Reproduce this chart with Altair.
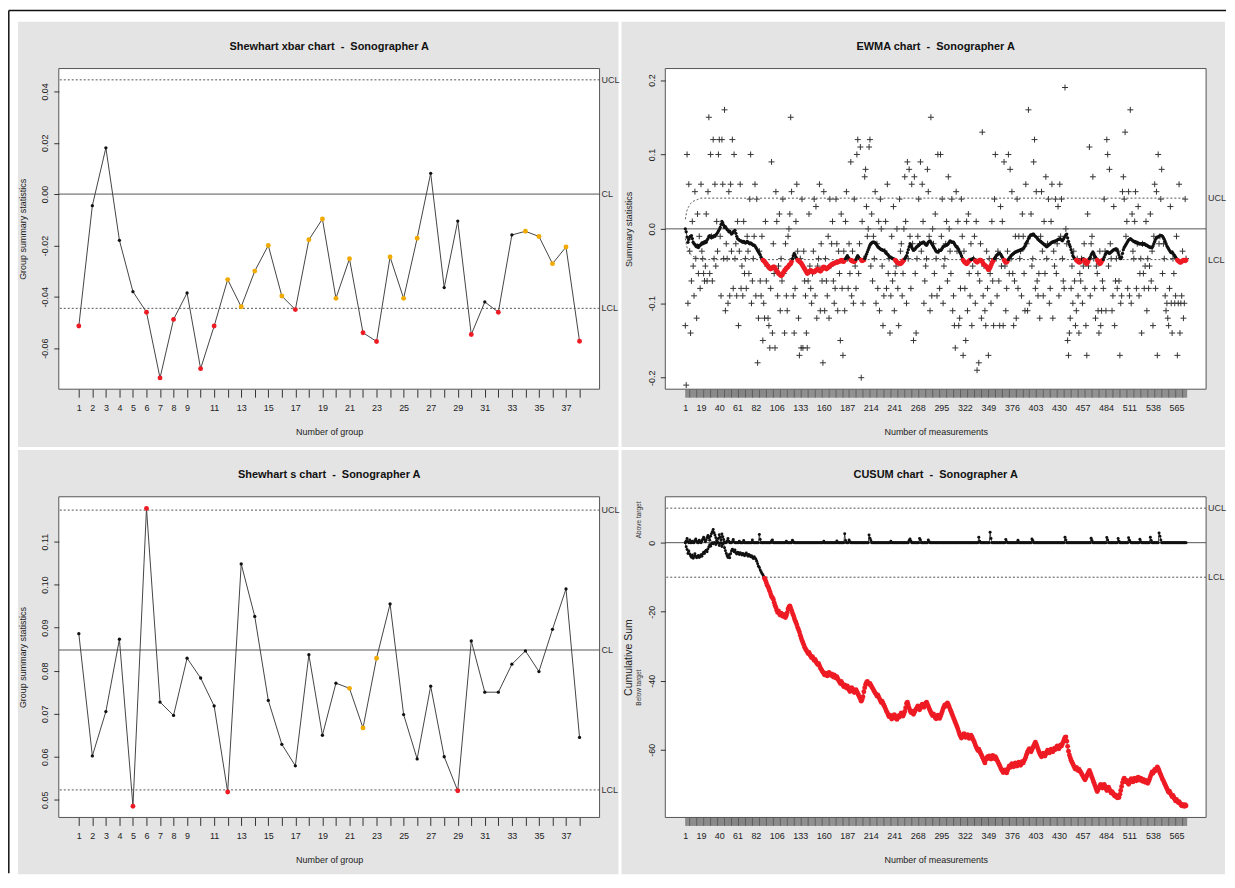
import altair as alt
import pandas as pd

# ------------------------------------------------------------------ data
N_GROUPS = 38
N_MEAS = 576
GROUP_TICK_LABELS = [1, 2, 3, 4, 5, 6, 7, 8, 9, 11, 13, 15, 17, 19, 21, 23, 25, 27, 29, 31, 33, 35, 37]
MEAS_TICK_LABELS = [1, 19, 40, 61, 82, 106, 133, 160, 187, 214, 241, 268, 295, 322, 349,
                    376, 403, 430, 457, 484, 511, 538, 565]

XBAR = [-0.0514, -0.0045, 0.0180, -0.0180, -0.0380, -0.0460, -0.0716, -0.0488, -0.0385, -0.0680,
        -0.0514, -0.0333, -0.0439, -0.0300, -0.0200, -0.0397, -0.0450, -0.0178, -0.0097, -0.0406,
        -0.0252, -0.0540, -0.0574, -0.0245, -0.0406, -0.0172, 0.0081, -0.0364, -0.0105, -0.0547,
        -0.0420, -0.0460, -0.0159, -0.0145, -0.0165, -0.0271, -0.0206, -0.0573]
XBAR_OUT = [1, 6, 7, 8, 10, 11, 17, 22, 23, 30, 32, 38]
XBAR_RUN = [12, 13, 14, 15, 16, 18, 19, 20, 21, 24, 25, 26, 34, 35, 36, 37]
XBAR_UCL, XBAR_CL, XBAR_LCL = 0.0445, 0.0, -0.0445

S_VALUES = [0.0886, 0.0602, 0.0705, 0.0873, 0.0485, 0.1177, 0.0727, 0.0696, 0.0829, 0.0783,
            0.0718, 0.0518, 0.1048, 0.0926, 0.0731, 0.0629, 0.0579, 0.0837, 0.0650, 0.0771,
            0.0759, 0.0667, 0.0829, 0.0955, 0.0698, 0.0595, 0.0764, 0.0600, 0.0521, 0.0869,
            0.0750, 0.0750, 0.0815, 0.0846, 0.0798, 0.0896, 0.0990, 0.0645]
S_OUT = [5, 6, 12, 29]
S_RUN = [21, 22, 23]
S_UCL, S_CL, S_LCL = 0.1173, 0.0848, 0.0523

EWMA_RAW_HUNDREDTHS = [
    -13, -21, 10, -10, 6, -3, -14, -7, 1, -5, -9, 5, -4, -12, 2, -6, -1, -8, 6, -3, -4, -6, -7, -5,
    2, -7, 5, 15, -6, 10, -1, -7, 12, -4, 6, -5, 1, -3, 10, 12, -1, -9, 12, 6, -4, 16, -11, -2,
    -4, -10, 5, -9, 6, -3, 12, -8, 10, -4, -2, -9, 1, -13, -3, 6, -8, -5, -9, 1, -6, -4, -8, -1,
    -3, -6, 4, 10, -10, -7, -4, -1, 6, -9, 4, -18, -12, -3, -7, -9, -1, -15, -10, -12, 1, -7, -5, -12,
    -13, -16, -8, 9, -14, -2, -6, -16, 5, 1, -9, -5, 2, -11, -4, -7, 4, -6, -14, -2, -9, -11, -1, 0,
    2, 15, 5, -4, -9, -14, -8, 1, 6, -3, -12, -17, -4, -16, 4, -16, -3, -7, -9, -14, -16, -7, 2, -5,
    -8, -10, -6, -3, 4, -9, 3, -12, -5, -4, 6, -11, -2, -7, -18, 5, -11, -4, -7, -9, -1, -12, 4, -5,
    -2, 1, -7, -10, -8, 4, -2, -11, -3, -6, -15, 2, -8, -17, -3, -11, 1, 5, -4, -8, -2, -6, 9, -9,
    -3, -10, 4, -5, -8, 10, 12, -6, -2, 11, -20, 1, -10, -4, 7, 8, 3, -1, 0, 11, 12, -5, 2, -7,
    -1, -4, 5, -10, -2, -8, 1, -11, 4, 0, -5, -13, -9, -3, 1, -8, 6, -6, -4, -14, -9, -1, -7, 3,
    -11, -6, -5, 0, -8, -13, 4, -3, -2, -9, -6, 0, 7, 1, -10, 9, -4, 8, -1, -8, 6, -2, -15, 7,
    -6, -14, -4, -1, 4, -2, 9, -3, 6, 1, -10, -7, -5, -4, 8, 5, -1, -11, 15, -9, 0, -2, -6, 2,
    -4, -9, 10, -3, -8, 10, -1, 4, -10, -5, -4, -2, 1, -7, 7, 0, -3, -6, 4, -11, -9, -13, -16, 5,
    -3, 1, -13, -12, -8, 4, -1, -17, -3, -8, -15, 1, -11, 2, -6, -9, -2, -13, -5, -4, -1, -10, 1, -19,
    -6, -18, -7, -2, -12, 13, -9, -5, -11, -13, -3, -8, -17, -4, -6, -10, 1, -7, -13, 4, 10, -4, -9, -3,
    -7, -13, 3, -5, 1, -13, 9, -5, -11, -8, -3, 10, -6, 8, -4, 5, -6, -13, -7, -1, -12, 4, -8, -1,
    -4, -3, -9, 2, -1, -6, -11, 6, -2, -11, 16, -10, -1, 2, -5, -4, 9, 12, -8, 5, -7, -9, -6, -12,
    -1, 5, -3, -9, 1, -6, 7, -4, -2, 4, -10, -8, 1, 6, -12, -3, -5, 4, -6, -2, 3, -9, 6, -1,
    4, -4, -7, -8, 19, 0, -2, -15, -17, -14, -12, -8, -5, -10, -3, -7, -13, -11, -4, -9, -14, -6, -7, -4,
    -10, -5, -2, -8, -13, -17, 2, -5, 11, -9, -2, -1, 7, -4, -8, -12, -5, -6, -11, -14, -3, -13, -11, -7,
    -8, 4, -3, -11, 12, 10, -5, 8, -2, -4, -11, -9, 3, -13, -7, -4, -8, -3, -7, -17, -10, -9, 5, 7,
    4, 13, -1, 1, -8, 5, -9, 16, -10, 2, -3, -4, 1, 5, -8, -2, 3, -9, -6, -4, -14, -2, -6, -8,
    -5, 1, -11, -4, -8, -5, 2, -7, -3, -13, -1, 6, -8, 5, -17, 10, -2, -1, 4, 8, -6, -2, -4, -9,
    -11, -10, -12, -13, -8, 3, -10, -14, -4, -6, -10, -9, -1, -17, -10, 6, -14, -10, -9, -3, -12, -10, 4, -4,
]

EWMA_SMOOTH_THOUSANDTHS = [
    0, -4, -11, -18, -14, -11, -10, -9, -13, -18, -20, -21, -23, -24, -22, -25, -23, -22, -21, -19, -20, -18, -19, -17,
    -18, -15, -13, -10, -9, -11, -12, -10, -11, -9, -10, -8, -7, -5, -3, -1, 2, 6, 10, 8, 5, 2, 3, 1,
    -1, -2, -4, -3, -5, -7, -6, -4, -3, -2, -6, -10, -13, -14, -15, -16, -16, -17, -18, -17, -18, -19, -18, -17,
    -18, -19, -20, -19, -20, -21, -22, -22, -23, -25, -27, -29, -31, -33, -35, -38, -40, -42, -43, -44, -46, -47, -49, -50,
    -52, -53, -54, -53, -52, -51, -51, -53, -55, -57, -58, -60, -61, -62, -63, -62, -60, -58, -56, -55, -53, -52, -51, -49,
    -48, -47, -44, -40, -36, -33, -35, -38, -40, -42, -43, -44, -45, -46, -48, -50, -52, -54, -56, -58, -60, -59, -58, -57,
    -56, -57, -58, -58, -58, -57, -56, -55, -54, -55, -56, -57, -56, -54, -52, -51, -52, -53, -54, -53, -52, -51, -50, -49,
    -48, -47, -47, -46, -46, -45, -45, -45, -44, -44, -43, -42, -43, -44, -44, -42, -40, -38, -36, -38, -40, -41, -42, -43,
    -43, -44, -44, -43, -41, -38, -36, -38, -40, -41, -42, -43, -42, -42, -40, -37, -34, -31, -28, -25, -22, -20, -19, -18,
    -18, -18, -19, -20, -22, -24, -25, -26, -27, -28, -28, -29, -29, -30, -31, -33, -34, -35, -37, -38, -38, -39, -40, -40,
    -41, -42, -43, -45, -46, -46, -47, -47, -46, -45, -43, -42, -40, -38, -36, -32, -28, -24, -20, -22, -25, -27, -29, -28,
    -27, -25, -24, -23, -22, -21, -20, -19, -19, -18, -18, -20, -21, -22, -20, -18, -17, -16, -18, -20, -22, -24, -26, -28,
    -30, -31, -31, -30, -29, -29, -28, -26, -24, -23, -23, -22, -22, -21, -20, -18, -16, -17, -18, -18, -18, -20, -22, -24,
    -24, -26, -28, -31, -33, -36, -39, -42, -44, -45, -46, -47, -46, -44, -43, -42, -41, -41, -40, -40, -41, -43, -44, -45,
    -44, -43, -42, -42, -43, -44, -47, -48, -49, -50, -51, -53, -55, -54, -52, -49, -46, -44, -42, -40, -38, -36, -35, -34,
    -33, -33, -34, -36, -38, -40, -42, -44, -45, -45, -43, -41, -39, -38, -36, -35, -34, -33, -32, -31, -31, -30, -30, -29,
    -29, -28, -28, -27, -27, -25, -23, -20, -18, -16, -13, -11, -9, -8, -8, -7, -7, -9, -10, -11, -12, -14, -15, -16,
    -17, -18, -19, -20, -21, -22, -23, -24, -23, -22, -21, -20, -19, -18, -18, -17, -17, -16, -16, -15, -14, -14, -13, -14,
    -15, -16, -14, -12, -10, -8, -7, -12, -17, -21, -24, -28, -32, -36, -38, -40, -41, -42, -43, -44, -45, -45, -44, -42,
    -41, -40, -42, -44, -46, -47, -45, -42, -40, -38, -35, -33, -31, -33, -36, -38, -40, -42, -44, -46, -47, -46, -44, -42,
    -41, -38, -35, -33, -31, -31, -32, -33, -32, -31, -30, -29, -28, -28, -27, -27, -29, -32, -35, -38, -40, -38, -33, -28,
    -25, -23, -21, -19, -17, -15, -14, -13, -14, -15, -16, -17, -17, -18, -18, -19, -19, -20, -20, -20, -20, -21, -20, -20,
    -21, -22, -22, -23, -24, -24, -25, -25, -25, -23, -20, -17, -14, -12, -11, -11, -10, -9, -9, -9, -10, -12, -14, -17,
    -20, -23, -25, -27, -29, -31, -32, -31, -33, -35, -36, -38, -40, -42, -43, -44, -45, -45, -44, -43, -42, -42, -43, -42,
]
EWMA_UCL_START = [0.013, 0.020, 0.025, 0.028, 0.030, 0.032, 0.034, 0.035, 0.036, 0.037,
                  0.0375, 0.038, 0.0385, 0.039, 0.0395, 0.040, 0.0405, 0.041, 0.0413]
EWMA_LIMIT = 0.0413

CUSUM_UPPER = [
    0, 0.5, 1.2, 0.3, 0, 0.8, 0, 0, 0.4, 0, 0, 0.6, 1.1, 0.4, 0, 0, 0.7, 0.2, 0, 0.5, 1.0, 1.6, 0.9, 0.3,
    0.8, 1.5, 2.1, 1.4, 0.7, 1.9, 2.6, 3.2, 3.8, 2.9, 2.2, 1.4, 0.6, 0, 1.2, 2.3, 1.6, 0.8, 2.5, 1.7, 0.9, 0.2, 0, 0,
    0.5, 1.2, 0.4, 0, 0, 0, 0.3, 0.9, 0.2, 0, 0, 0, 0, 0, 0.4, 0, 0, 0, 0, 0.6, 0, 0, 0, 0,
    0, 0, 0, 0, 0, 0.8, 0, 0, 0, 0, 0, 0, 0, 2.4, 0.9, 0, 0, 0, 0, 0, 0, 0, 0, 0,
    0, 0, 0, 0.5, 0.8, 0, 0, 0, 0, 0, 0, 0, 0, 0, 0, 0, 0, 0, 0, 0, 0.4, 0, 0, 0,
    0, 0, 0, 0.7, 0.3, 0, 0, 0, 0, 0, 0, 0, 0, 0, 0, 0, 0, 0, 0, 0, 0, 0, 0, 0,
    0, 0, 0, 0, 0, 0, 0, 0, 0, 0, 0, 0, 0, 0, 0, 0.4, 0, 0, 0, 0, 0, 0, 0, 0,
    0, 0, 0, 0, 0, 0, 0.5, 0, 0, 0, 0, 0, 0, 0, 0, 2.6, 0.6, 0, 0, 0, 0.8, 0.3, 0, 0,
    0, 0, 0, 0, 0, 0, 0, 0, 0, 0, 0, 0, 0, 0, 0, 0, 0, 0, 0, 2.2, 1.3, 0.6, 0, 0,
    0, 0, 0, 0, 0, 0, 0, 0, 0, 0, 0, 0, 0, 0, 0, 0, 0, 0, 0, 0, 0.4, 0, 0, 0,
    0, 0, 0, 0, 0, 0, 0, 0, 0, 0, 0, 0, 0, 0, 0, 0, 0, 0.6, 1.1, 0.5, 0, 0, 0, 0,
    0, 0, 0, 0, 0, 1.2, 0.8, 0, 0, 0, 0, 0, 0, 0, 0, 0.8, 0.3, 0, 0, 0, 0, 0, 0, 0,
    0, 0, 0, 0, 0, 0, 0, 0, 0, 0, 0, 0, 0, 0, 0, 0, 0, 0, 0, 0, 0, 0, 0, 0,
    0, 0, 0, 0, 0, 0, 0, 0, 0, 0, 0, 0, 0, 0, 0, 0, 0, 0, 0, 0, 0, 0, 0, 0,
    0, 1.6, 0.4, 0, 0, 0, 0, 0, 0, 0, 0, 0, 0, 0, 3.0, 1.2, 0, 0, 0, 0, 0, 0, 0, 0,
    0, 0, 0, 0, 0, 0, 0, 0, 0.9, 0.3, 0, 0, 0, 0, 0, 0, 0, 0, 0, 0, 0, 0, 0.7, 0,
    0, 0, 0, 0, 0, 0, 0, 0, 0, 0, 0, 0, 0, 0, 1.1, 0.6, 0, 0, 0, 0, 0, 0, 0, 0,
    0, 0, 0, 0, 0, 0, 0, 0, 0, 0, 0, 0, 0, 0, 0, 0, 0, 0, 0, 0, 0, 0, 0, 0,
    0, 0, 0, 0, 1.6, 0.8, 0, 0, 0, 0, 0, 0, 0, 0, 0, 0, 0, 0, 0, 0, 0, 0, 0, 0,
    0, 0, 0, 0, 0, 0, 0, 0, 0, 0, 1.3, 0.6, 0, 0, 0, 0, 0, 0, 0, 0, 0, 0, 0, 0,
    0, 0, 0, 0, 1.5, 0.8, 0, 0, 0, 0, 0, 0, 0, 0, 0, 0, 0, 1.2, 0.4, 0, 0, 0, 0, 0,
    0, 0, 0, 0, 0, 1.4, 0.7, 0.2, 0, 0, 0, 0, 0, 0, 0, 0, 0, 0, 1.0, 0.3, 0, 0, 0, 0,
    0, 0, 0, 0, 0, 0, 1.6, 0.6, 0, 0, 0, 0, 0, 0, 0, 0, 2.8, 1.9, 0.8, 0, 0, 0, 0, 0,
    0, 0, 0, 0, 0, 0, 0, 0, 0, 0, 0, 0, 0, 0, 0, 0, 0, 0, 0, 0, 0, 0, 0, 0,
]

CUSUM_LOWER = [
    0, -1.2, -2.0, -3.1, -2.4, -3.3, -3.8, -4.2, -3.6, -4.5, -4.0, -3.2, -3.9, -4.4, -4.1, -3.7, -4.3, -4.0, -3.5, -3.9, -3.3, -2.8, -3.1, -2.5,
    -2.2, -2.6, -1.8, -1.2, -0.6, -1.0, -0.4, 0, -0.3, 0, 0, -0.5, 0, 0, 0, -0.8, -0.2, 0, -1.1, -0.4, 0, -1.5, -2.3, -3.1,
    -3.8, -4.3, -3.5, -4.4, -3.2, -2.4, -1.9, -2.2, -2.6, -2.1, -2.9, -3.3, -2.8, -3.0, -3.4, -2.9, -3.2, -3.6, -3.1, -3.4, -3.8, -3.3, -3.0, -3.5,
    -3.9, -3.4, -3.7, -4.1, -3.8, -4.2, -4.6, -4.1, -4.4, -4.8, -5.4, -6.1, -6.8, -7.2, -7.9, -8.4, -8.9, -9.3, -9.8, -10.3, -10.9, -11.6, -12.3, -12.8,
    -13.4, -14.1, -14.9, -15.6, -15.9, -16.4, -17.3, -18.1, -18.8, -19.6, -20.2, -19.8, -20.5, -21.0, -20.4, -20.9, -21.3, -20.8, -21.4, -21.7, -21.1, -20.3, -19.2, -18.6,
    -18.3, -18.9, -19.6, -20.4, -21.0, -21.8, -22.5, -23.1, -23.8, -24.6, -25.2, -25.9, -26.8, -27.6, -28.3, -29.0, -29.6, -30.3, -30.8, -31.2, -31.6, -32.1, -31.8, -32.4,
    -32.9, -33.3, -33.0, -33.6, -34.1, -33.8, -34.4, -34.9, -35.3, -35.0, -35.6, -36.2, -36.7, -37.1, -37.5, -37.9, -38.3, -37.8, -38.2, -38.6, -38.0, -37.6, -38.1, -38.4,
    -38.0, -38.5, -38.9, -38.3, -38.7, -39.2, -38.8, -39.4, -39.9, -40.3, -40.8, -40.2, -40.7, -41.3, -41.7, -41.2, -41.6, -42.1, -41.5, -42.0, -42.6, -43.1, -42.5, -42.0,
    -42.4, -42.9, -43.4, -43.0, -42.6, -43.2, -43.7, -44.2, -44.8, -45.3, -45.9, -45.4, -44.6, -43.2, -42.0, -41.1, -40.5, -40.2, -40.6, -41.0, -40.8, -41.3, -41.7, -42.2,
    -42.6, -43.1, -43.5, -43.9, -44.4, -44.1, -44.7, -45.2, -45.8, -46.3, -45.9, -46.5, -47.1, -47.6, -48.2, -48.8, -49.3, -49.9, -50.4, -50.0, -50.6, -51.1, -50.7, -50.2,
    -49.8, -50.3, -50.9, -51.2, -50.6, -50.1, -50.5, -49.9, -49.3, -49.8, -50.2, -49.6, -48.9, -47.8, -46.6, -46.2, -47.0, -47.9, -48.6, -49.2, -48.8, -49.3, -49.7, -49.1,
    -48.6, -48.2, -47.8, -47.3, -47.9, -48.4, -47.9, -47.2, -46.8, -47.3, -47.7, -47.1, -46.5, -46.2, -46.8, -47.4, -48.0, -48.6, -49.2, -49.7, -50.1, -49.6, -50.2, -50.7,
    -51.0, -50.5, -50.0, -50.4, -50.9, -50.3, -49.6, -48.9, -48.1, -47.5, -47.0, -47.4, -46.8, -46.4, -46.9, -47.5, -48.2, -48.8, -49.5, -50.1, -50.8, -51.4, -52.0, -52.7,
    -53.3, -54.0, -54.8, -55.5, -56.1, -56.6, -56.2, -55.7, -55.3, -55.9, -56.4, -56.0, -55.6, -56.1, -56.7, -56.3, -55.8, -56.2, -56.8, -57.3, -57.9, -58.6, -59.2, -59.7,
    -60.2, -59.8, -60.4, -61.0, -61.5, -62.1, -62.6, -63.2, -63.8, -62.9, -62.4, -62.0, -62.5, -61.8, -62.3, -62.7, -62.1, -61.6, -62.2, -62.6, -62.0, -62.4, -63.0, -63.5,
    -64.1, -64.6, -65.2, -65.7, -66.1, -66.6, -66.2, -65.8, -66.3, -66.7, -66.0, -65.3, -64.7, -65.1, -64.5, -64.0, -64.4, -64.9, -64.3, -63.8, -64.2, -64.7, -64.1, -63.6,
    -64.0, -64.5, -63.9, -63.4, -63.8, -63.2, -62.7, -62.1, -61.3, -60.6, -60.1, -59.7, -60.2, -60.6, -60.0, -59.4, -58.9, -58.3, -57.8, -58.4, -59.1, -59.8, -60.5, -61.1,
    -61.6, -62.0, -61.5, -61.0, -61.4, -61.8, -61.2, -60.6, -60.1, -60.5, -60.9, -60.3, -59.8, -60.2, -60.6, -60.0, -59.5, -59.9, -59.4, -58.9, -59.3, -59.7, -59.1, -58.6,
    -58.9, -58.3, -57.7, -57.0, -56.4, -56.3, -57.5, -59.0, -60.4, -61.5, -62.3, -63.0, -63.6, -64.1, -64.7, -65.2, -65.6, -65.1, -65.5, -66.0, -65.6, -66.1, -66.5, -66.9,
    -67.4, -67.8, -68.3, -68.7, -68.2, -67.6, -67.0, -66.5, -66.0, -66.6, -67.3, -68.0, -68.7, -69.4, -70.1, -70.8, -71.5, -72.1, -71.6, -71.0, -70.4, -70.0, -70.6, -71.1,
    -70.5, -70.0, -70.6, -71.2, -71.8, -71.3, -70.8, -71.4, -72.0, -72.5, -72.1, -72.6, -73.0, -73.4, -73.1, -73.6, -73.9, -73.5, -73.8, -72.9, -71.8, -70.6, -69.5, -68.7,
    -68.2, -68.8, -69.3, -68.9, -69.5, -70.0, -69.4, -68.9, -68.4, -68.9, -69.3, -68.7, -68.2, -68.6, -69.0, -68.4, -67.9, -68.3, -68.8, -68.2, -68.7, -69.1, -68.6, -69.0,
    -69.4, -68.9, -69.3, -69.7, -69.1, -68.5, -67.8, -67.1, -66.4, -66.8, -66.2, -65.7, -66.1, -65.5, -65.0, -65.4, -66.0, -66.7, -67.3, -67.9, -68.5, -69.0, -69.6, -70.1,
    -70.7, -71.2, -71.8, -72.3, -72.0, -72.6, -73.1, -73.6, -73.2, -73.8, -74.3, -74.8, -74.4, -74.9, -75.3, -75.0, -75.5, -75.9, -76.2, -75.8, -76.1, -76.4, -75.9, -76.2,
]
CUSUM_UCL, CUSUM_LCL = 10.0, -10.0

# ------------------------------------------------------------------ style
FONT = "Liberation Sans"
PANEL_GRAY = "#e4e4e4"
RED = "#ee1b24"
ORANGE = "#f0aa00"
INK = "#222222"
W, H = 543, 322
SEP = "\u00a0\u00a0-\u00a0\u00a0"

one = pd.DataFrame({"k": [0]})


def decor(left, right, top, bottom, title, frame=False):
    layers = []
    layers.append(alt.Chart(one).mark_rect(color=PANEL_GRAY).encode(
        x=alt.value(left), x2=alt.value(right), y=alt.value(top), y2=alt.value(bottom)))
    layers.append(alt.Chart(one).mark_rect(fill="white", stroke="#555555", strokeWidth=1).encode(
        x=alt.value(0), x2=alt.value(W), y=alt.value(0), y2=alt.value(H)))
    layers.append(alt.Chart(one).mark_text(
        text=title, font=FONT, fontSize=11, fontWeight="bold", color="#111111",
        align="center", baseline="middle").encode(x=alt.value(W / 2), y=alt.value(-22)))
    if frame:
        layers.append(alt.Chart(one).mark_rule(color="#111111", strokeWidth=1.5).encode(
            x=alt.value(-50.2), x2=alt.value(1172), y=alt.value(-58.2)))
        layers.append(alt.Chart(one).mark_rule(color="#111111", strokeWidth=1.5).encode(
            x=alt.value(-50.2), y=alt.value(-58.2), y2=alt.value(808)))
    return layers


def x_axis(values, shown, title, tick_color="#333333", tick_width=1.0):
    lst = ",".join(str(v) for v in shown)
    return alt.Axis(
        values=values, labelExpr=f"indexof([{lst}], datum.value) >= 0 ? datum.label : ''",
        title=title, grid=False, domain=False, tickSize=8, tickColor=tick_color,
        tickWidth=tick_width,
        labelFont=FONT, labelFontSize=9, labelColor=INK, labelPadding=6,
        labelOverlap=False, labelFlush=False,
        titleFont=FONT, titleFontSize=9, titleFontWeight="normal", titleColor=INK,
        titleX=W / 2, titleY=42, titleAlign="center", titleBaseline="middle", zindex=1)


def y_axis(values, fmt, title, title_x, title_size=9):
    return alt.Axis(
        values=values, format=fmt, labelExpr="replace(datum.label, '\u2212', '-')",
        title=title, grid=False, domain=False, tickSize=5, tickColor="#333333",
        labelAngle=270, labelAlign="center", labelBaseline="alphabetic", labelPadding=6,
        labelFont=FONT, labelFontSize=9, labelColor=INK,
        titleFont=FONT, titleFontSize=title_size, titleFontWeight="normal", titleColor=INK,
        titleAngle=270, titleX=title_x, titleY=H / 2, titleAlign="center",
        titleBaseline="middle", zindex=1)


def limit_labels(names, vals, Y):
    df = pd.DataFrame({"y": vals, "lab": names})
    return alt.Chart(df).mark_text(align="left", baseline="middle", font=FONT, fontSize=9,
                                   color="#333333").encode(x=alt.value(W + 2), y=Y, text="lab:N")


def hline(val, Y, dashed):
    kw = dict(color="#555555", strokeWidth=1)
    if dashed:
        kw["strokeDash"] = [2, 2]
    return alt.Chart(pd.DataFrame({"y": [val]})).mark_rule(**kw).encode(y=Y)


# ------------------------------------------------------------------ Shewhart panels
def shewhart(values, out, run, ucl, cl, lcl, ydomain, yticks, title, frame, gray):
    status = ["out" if g in out else ("run" if g in run else "in")
              for g in range(1, len(values) + 1)]
    df = pd.DataFrame({"x": list(range(1, len(values) + 1)), "y": values, "status": status})
    X = alt.X("x:Q", scale=alt.Scale(domain=[-0.48, N_GROUPS + 1.48], nice=False, zero=False),
              axis=x_axis(list(range(1, N_GROUPS + 1)), GROUP_TICK_LABELS, "Number of group"))
    Y = alt.Y("y:Q", scale=alt.Scale(domain=ydomain, nice=False, zero=False),
              axis=y_axis(yticks, ".2f", "Group summary statistics", -36))
    layers = decor(*gray, title, frame)
    layers += [
        hline(cl, Y, False), hline(ucl, Y, True), hline(lcl, Y, True),
        alt.Chart(df).mark_line(color="#444444", strokeWidth=1).encode(x=X, y=Y),
        alt.Chart(df).mark_circle(opacity=1).encode(
            x=X, y=Y,
            color=alt.Color("status:N", scale=alt.Scale(domain=["in", "run", "out"],
                                                        range=["#111111", ORANGE, RED]), legend=None),
            size=alt.condition(alt.datum.status == "in", alt.value(11), alt.value(24))),
        limit_labels(["UCL", "CL", "LCL"], [ucl, cl, lcl], Y),
    ]
    return alt.layer(*layers).properties(width=W, height=H)


xbar_chart = shewhart(XBAR, XBAR_OUT, XBAR_RUN, XBAR_UCL, XBAR_CL, XBAR_LCL,
                      [-0.0760, 0.0489], [-0.06, -0.04, -0.02, 0.0, 0.02, 0.04],
                      "Shewhart xbar chart" + SEP + "Sonographer A", True, (-41, 562, -47, 380))
s_chart = shewhart(S_VALUES, S_OUT, S_RUN, S_UCL, S_CL, S_LCL,
                   [0.0459, 0.1204], [0.05, 0.06, 0.07, 0.08, 0.09, 0.10, 0.11],
                   "Shewhart s chart" + SEP + "Sonographer A", False, (-41, 562, -47, 379))

# ------------------------------------------------------------------ EWMA panel
meas_x_scale = alt.Scale(domain=[-22, 599], nice=False, zero=False)
ALL_MEAS = list(range(1, N_MEAS + 1))

X_ew = alt.X("x:Q", scale=meas_x_scale,
             axis=x_axis(ALL_MEAS, MEAS_TICK_LABELS, "Number of measurements", "#444444", 0.6))
Y_ew = alt.Y("y:Q", scale=alt.Scale(domain=[-0.2155, 0.2155], nice=False, zero=False),
             axis=y_axis([-0.2, -0.1, 0.0, 0.1, 0.2], ".1f", "Summary statistics", -37))

raw_df = pd.DataFrame({"x": list(range(1, len(EWMA_RAW_HUNDREDTHS) + 1)),
                       "y": [v / 100 for v in EWMA_RAW_HUNDREDTHS]})
ewma_df = pd.DataFrame({"x": list(range(1, len(EWMA_SMOOTH_THOUSANDTHS) + 1)),
                        "y": [v / 1000 for v in EWMA_SMOOTH_THOUSANDTHS]})
lim_x = list(range(1, len(EWMA_UCL_START) + 1)) + [N_MEAS]
lim_u = EWMA_UCL_START + [EWMA_LIMIT]
ucl_df = pd.DataFrame({"x": lim_x, "y": lim_u})
lcl_df = pd.DataFrame({"x": lim_x, "y": [-v for v in lim_u]})

ewma_layers = decor(-44, 562, -47, 380, "EWMA chart" + SEP + "Sonographer A")
ewma_layers += [
    alt.Chart(raw_df).mark_point(shape="M-1,0L1,0M0,-1L0,1", filled=False, size=36,
                                 strokeWidth=1, color="#333333", opacity=1).encode(x=X_ew, y=Y_ew),
    hline(0.0, Y_ew, False),
    alt.Chart(ucl_df).mark_line(color="#555555", strokeWidth=1, strokeDash=[2, 2]).encode(x=X_ew, y=Y_ew),
    alt.Chart(lcl_df).mark_line(color="#555555", strokeWidth=1, strokeDash=[2, 2]).encode(x=X_ew, y=Y_ew),
    alt.Chart(ewma_df).mark_line(color="#222222", strokeWidth=0.8).encode(x=X_ew, y=Y_ew),
    alt.Chart(ewma_df).mark_circle(opacity=1).encode(
        x=X_ew, y=Y_ew,
        color=alt.condition(alt.datum.y < -EWMA_LIMIT, alt.value(RED), alt.value("#111111")),
        size=alt.condition(alt.datum.y < -EWMA_LIMIT, alt.value(24), alt.value(11))),
    limit_labels(["UCL", "LCL"], [EWMA_LIMIT, -EWMA_LIMIT], Y_ew),
]
ewma_chart = alt.layer(*ewma_layers).properties(width=W, height=H)

# ------------------------------------------------------------------ CUSUM panel
X_cu = alt.X("x:Q", scale=meas_x_scale,
             axis=x_axis(ALL_MEAS, MEAS_TICK_LABELS, "Number of measurements", "#444444", 0.6))
Y_cu = alt.Y("y:Q", scale=alt.Scale(domain=[-79.6, 13.3], nice=False, zero=False),
             axis=y_axis([-60, -40, -20, 0], "d", "Cumulative Sum", -37, 10.5))

up_df = pd.DataFrame({"x": list(range(1, len(CUSUM_UPPER) + 1)), "y": CUSUM_UPPER})
lo_df = pd.DataFrame({"x": list(range(1, len(CUSUM_LOWER) + 1)), "y": CUSUM_LOWER})
side_df = pd.DataFrame({"y": [6.6, -42.0], "lab": ["Above target", "Below target"]})

cusum_layers = decor(-44, 562, -47, 379, "CUSUM chart" + SEP + "Sonographer A")
cusum_layers += [
    hline(CUSUM_UCL, Y_cu, True), hline(CUSUM_LCL, Y_cu, True),
    hline(0.0, Y_cu, False),
    alt.Chart(up_df).mark_line(color="#222222", strokeWidth=0.8).encode(x=X_cu, y=Y_cu),
    alt.Chart(up_df).mark_circle(opacity=1, color="#111111", size=9).encode(x=X_cu, y=Y_cu),
    alt.Chart(lo_df).mark_line(color="#222222", strokeWidth=0.8).encode(x=X_cu, y=Y_cu),
    alt.Chart(lo_df).mark_circle(opacity=1).encode(
        x=X_cu, y=Y_cu,
        color=alt.condition(alt.datum.y < CUSUM_LCL, alt.value(RED), alt.value("#111111")),
        size=alt.condition(alt.datum.y < CUSUM_LCL, alt.value(24), alt.value(9))),
    alt.Chart(side_df).mark_text(angle=270, font=FONT, fontSize=6.5, color="#333333",
                                 align="center", baseline="middle").encode(
        x=alt.value(-26), y=Y_cu, text="lab:N"),
    limit_labels(["UCL", "LCL"], [CUSUM_UCL, CUSUM_LCL], Y_cu),
]
cusum_chart = alt.layer(*cusum_layers).properties(width=W, height=H)

# ------------------------------------------------------------------ layout
chart = alt.concat(
    xbar_chart, ewma_chart, s_chart, cusum_chart,
    columns=2, spacing={"row": 108, "column": 66}, bounds="flush",
).properties(padding=0, background="white").configure_view(stroke=None)

chart.save("out.html", embed_options={"renderer": "svg", "actions": False})
